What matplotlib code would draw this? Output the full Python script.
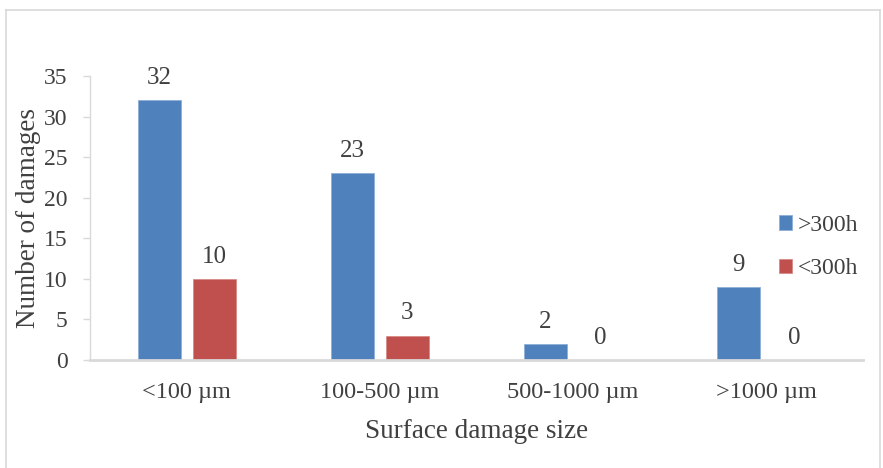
import matplotlib
matplotlib.use("Agg")
import matplotlib.pyplot as plt
from matplotlib.lines import Line2D
import numpy as np

categories = ["<100 µm", "100-500 µm", "500-1000 µm", ">1000 µm"]
series_names = [">300h", "<300h"]
over_300h = [32, 23, 2, 9]
under_300h = [10, 3, 0, 0]
y_ticks = [0, 5, 10, 15, 20, 25, 30, 35]

colors = ["#4F81BD", "#C0504D"]
edge_colors = ["#8FAFD8", "#D98A88"]
text_color = "#404040"
grid_gray = "#D9D9D9"

plt.rcParams["font.family"] = ["Liberation Serif", "DejaVu Serif"]

W, H = 883, 468
fig = plt.figure(figsize=(W / 100, H / 100), dpi=100)

# chart area frame
frame_kw = dict(color=grid_gray, lw=1.2, transform=fig.transFigure)
fig.add_artist(Line2D([6 / W, 6 / W], [0, 1 - 10 / H], **frame_kw))
fig.add_artist(Line2D([6 / W, 880 / W], [1 - 10 / H, 1 - 10 / H], **frame_kw))
fig.add_artist(Line2D([880 / W, 880 / W], [0, 1 - 10 / H], **frame_kw))

left, right = 90 / W, 863 / W
bottom, top = 1 - 360 / H, 1 - 76 / H
ax = fig.add_axes([left, bottom, right - left, top - bottom])

x = np.arange(len(categories))
bw = 0.223
off = 0.1425
series = [over_300h, under_300h]
for i, (vals, c, ec, name) in enumerate(zip(series, colors, edge_colors, series_names)):
    pos = x + (off if i else -off)
    ax.bar(pos, vals, width=bw, color=c, edgecolor=ec, linewidth=0.6,
           label=name, zorder=3)
    for px, v in zip(pos, vals):
        ax.annotate(str(v), (px, v), xytext=(0, 16), textcoords="offset points",
                    ha="center", va="center", fontsize=18, color=text_color)

ax.set_xlim(-0.5, len(categories) - 0.5)
ax.set_ylim(0, 35)
ax.set_yticks(y_ticks)
ax.set_xticks(x)
ax.set_xticklabels(categories)

for s in ["top", "right"]:
    ax.spines[s].set_visible(False)
ax.spines["left"].set_color(grid_gray)
ax.spines["bottom"].set_color(grid_gray)
ax.spines["left"].set_linewidth(1.0)
ax.spines["bottom"].set_linewidth(2.0)
ax.spines["bottom"].set_zorder(4)

ax.tick_params(axis="y", length=5, width=1, color=grid_gray, labelsize=17,
               labelcolor=text_color, pad=11)
ax.tick_params(axis="x", length=0, labelsize=17.5, labelcolor=text_color, pad=16)

ax.set_xlabel("Surface damage size", fontsize=19.5, color=text_color, labelpad=11)
ax.set_ylabel("Number of damages", fontsize=19.5, color=text_color)
ax.yaxis.set_label_coords(-(90 - 41) / (863 - 90), 0.5)

leg = ax.legend(loc="upper left", bbox_to_anchor=(767 / W, 1 - 203 / H),
                bbox_transform=fig.transFigure, frameon=False, fontsize=17,
                handlelength=0.55, handleheight=0.55, handletextpad=0.25,
                labelspacing=0.95, labelcolor=text_color, borderpad=0)

fig.savefig("out.png", dpi=100)
